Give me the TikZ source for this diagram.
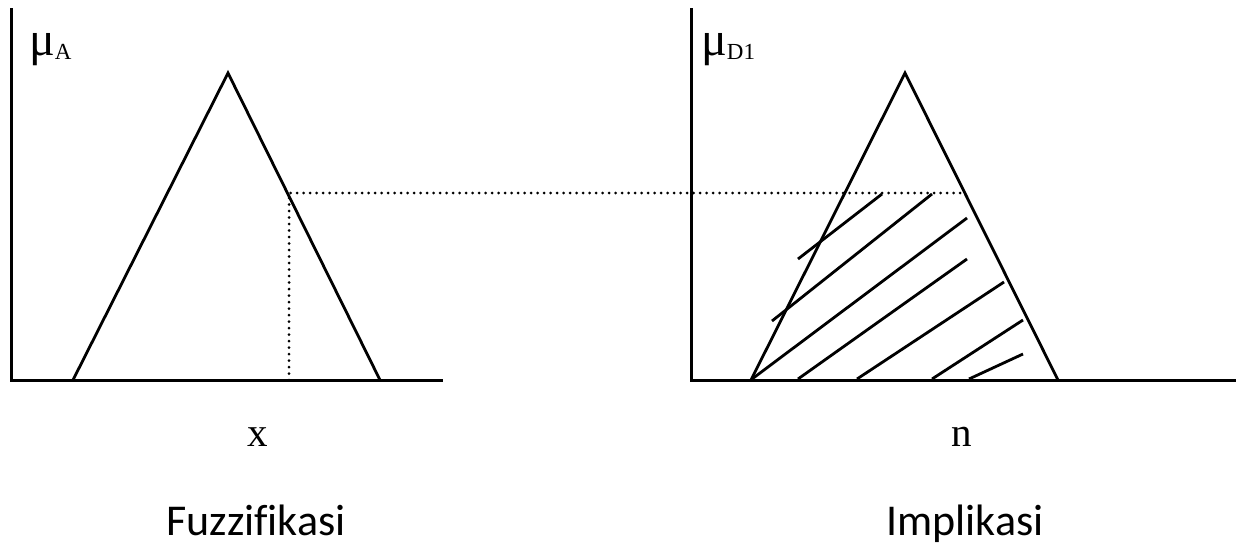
\documentclass[tikz,border=0pt]{standalone}
\usepackage{fontspec}
\setmainfont{Liberation Serif}
\newfontfamily\calib[Ligatures={NoCommon}]{Carlito}
\begin{document}
\begin{tikzpicture}[x=1pt,y=-1pt,
  axis/.style={line width=3pt},
  tri/.style={line width=2.8pt, line join=miter},
  guide/.style={line width=3pt, line cap=round, dash pattern=on 0pt off 6.5pt},
  hatch/.style={line width=2.8pt},
  lbl/.style={inner sep=0pt, font=\fontsize{41}{41}\selectfont},
  mulbl/.style={inner sep=0pt, font=\fontsize{48}{48}\selectfont},
  captxt/.style={inner sep=0pt, font=\calib\fontsize{44}{44}\selectfont}]
\useasboundingbox (0,0) rectangle (1236,546);
% left diagram
\coordinate (o1) at (11,380);
\coordinate (t1) at (11,8);
\coordinate (e1) at (443,380);
\draw[axis] (t1) -- (o1) -- (e1);
\coordinate (a1) at (73,380);
\coordinate (p1) at (228,73);
\coordinate (b1) at (380,380);
\draw[tri] (a1) -- (p1) -- (b1);
\coordinate (q1) at (289,193);
\coordinate (f1) at (289,380);
\coordinate (g2) at (965,193);
\draw[guide] (f1) -- (q1) -- (g2);
% right diagram
\coordinate (o2) at (691,380);
\coordinate (t2) at (691,8);
\coordinate (e2) at (1236,380);
\draw[axis] (t2) -- (o2) -- (e2);
\coordinate (a2) at (751,380);
\coordinate (p2) at (905,73);
\coordinate (b2) at (1058,380);
\draw[tri] (a2) -- (p2) -- (b2);
% hatching
\draw[hatch] (798,259) -- (882,194);
\draw[hatch] (772,321) -- (932,194);
\draw[hatch] (752,379) -- (967,218);
\draw[hatch] (798,379) -- (967,259);
\draw[hatch] (857,379) -- (1004,282);
\draw[hatch] (932,379) -- (1023,320);
\draw[hatch] (969,379) -- (1023,354);
% labels
\node[mulbl, anchor=base west] (muA) at (29,55) {μ\raisebox{-4pt}{\fontsize{23}{23}\selectfont A}};
\node[mulbl, anchor=base west] (muD) at (701,55) {μ\raisebox{-4pt}{\fontsize{23}{23}\selectfont D1}};
\node[lbl, anchor=base] (xl) at (258,446) {x};
\node[lbl, anchor=base] (nl) at (962,446) {n};
\node[captxt, anchor=base] (fz) at (256,535) {Fuzzifikasi};
\node[captxt, anchor=base] (im) at (965,535) {Implikasi};
\end{tikzpicture}
\end{document}
